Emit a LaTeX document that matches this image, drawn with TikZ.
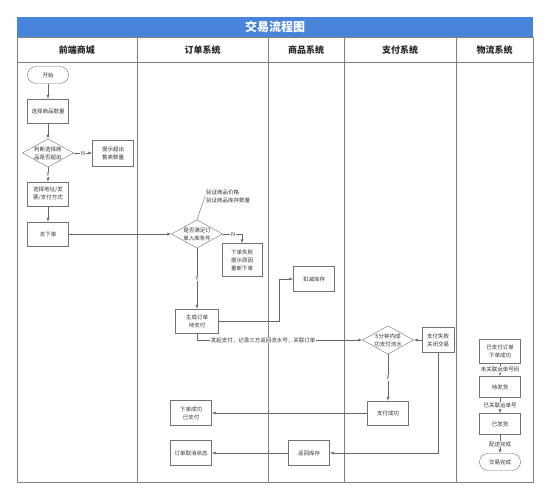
\documentclass[tikz,border=0pt]{standalone}
\usepackage{fontspec}
\setmainfont{Noto Sans CJK SC}
\usetikzlibrary{arrows,shapes.geometric}
\definecolor{titlebar}{RGB}{72,132,218}
\begin{document}
\begin{tikzpicture}[x=1pt,y=-1pt,
    small/.style={font=\fontsize{5.5}{8}\selectfont,text=black!80},
    box/.style={small,draw=black!55,fill=white,minimum width=41pt,minimum height=24pt,inner sep=1pt,align=center},
    term/.style={box,rounded corners=8.5pt,minimum height=17pt},
    dec/.style={small,draw=black!55,fill=white,diamond,aspect=1.8,inner sep=0pt,minimum width=50pt,minimum height=28pt,align=center},
    tag/.style={small,fill=white,inner sep=0.8pt},
    head/.style={font=\bfseries\fontsize{9}{9}\selectfont,text=black!85},
    lane/.style={draw=black!50,line width=0.7pt},
    flow/.style={draw=black!60,line width=0.4pt,-latex}]
      \useasboundingbox (0,0) rectangle (550,500);
      \fill[titlebar] (17,17) rectangle (533,37);
      \node[font=\bfseries\fontsize{12}{12}\selectfont,text=white] (title) at (275,27) {交易流程图};
      \draw[lane] (17,37) rectangle (533,482);
      \draw[lane] (17,62) -- (533,62);
      \foreach \x in {137,268,344,456} \draw[lane] (\x,37) -- (\x,482);
      \foreach \x/\t in {77/前端商城,202.5/订单系统,306/商品系统,400/支付系统,494.5/物流系统}
        \node[head] (h\x) at (\x,50) {\t};
      \node[term] (start) at (48,75) {开始};
      \node[box] (qty) at (48,111) {选择商品数量};
      \node[dec] (over) at (48,153) {判断选择商\\品是否超出};
      \node[box,minimum height=26pt] (hint) at (113,153) {提示超出\\售卖数量};
      \node[box] (addr) at (48,194) {选择地址/发\\票/支付方式};
      \node[box] (place) at (48,234) {去下单};
      \node[dec] (check) at (197,234) {是否满足订\\单入库条件};
      \node[tag,anchor=west,align=left] (rule) at (205,196) {验证商品价格\\验证商品库存数量};
      \node[box,minimum width=40pt,minimum height=33pt] (fail) at (242,260) {下单失败\\提示原因\\重新下单};
      \node[box,minimum width=43pt] (gen) at (197,321) {生成订单\\待支付};
      \node[box,minimum height=25pt] (stock) at (314,279) {扣减库存};
      \node[dec] (pay) at (388,340) {5分钟内成\\功支付流水};
      \node[box,minimum width=32pt,minimum height=25pt] (payfail) at (438,340) {支付失败\\关闭交易};
      \node[box] (payok) at (388,413) {支付成功};
      \node[box,minimum height=25pt] (done) at (191,413) {下单成功\\已支付};
      \node[box,minimum height=25pt] (back) at (309,453) {返回库存};
      \node[box,minimum height=25pt] (cancel) at (191,453) {订单取消状态};
      \node[box] (paid) at (500,351) {已支付订单\\下单成功};
      \node[box,minimum height=21pt] (wait) at (500,387) {待发货};
      \node[box,minimum height=21pt] (sent) at (500,424) {已发货};
      \node[term] (end) at (500,462) {交易完成};
      \draw[flow] (start) -- (qty);
      \draw[flow] (qty) -- (over);
      \draw[flow] (over) -- node[tag]{N} (hint);
      \draw[flow] (over) -- node[tag]{Y} (addr);
      \draw[flow] (addr) -- (place);
      \draw[flow] (place) -- (check);
      \draw[draw=black!60,line width=0.4pt] (check.north) -- (rule.west);
      \draw[flow] (check.east) -| node[tag,pos=0.27]{N} (fail.north);
      \draw[flow] (check) -- node[tag]{Y} (gen);
      \draw[flow] (gen) -| ([xshift=-14pt]stock.west) |- (stock);
      \draw[flow] (gen) |- node[tag,pos=0.7]{发起支付，记录三方返回流水号，关联订单} (pay);
      \draw[flow] (payfail) -- (pay);
      \draw[flow] (pay) -- node[tag]{y} (payok);
      \draw[flow] (payok) -- (done);
      \draw[flow] (payfail) |- (back);
      \draw[flow] (back) -- (cancel);
      \draw[flow] (paid) -- node[tag]{未关联运单号码} (wait);
      \draw[flow] (wait) -- node[tag]{已关联运单号} (sent);
      \draw[flow] (sent) -- node[tag]{配送完成} (end);
\end{tikzpicture}
\end{document}
